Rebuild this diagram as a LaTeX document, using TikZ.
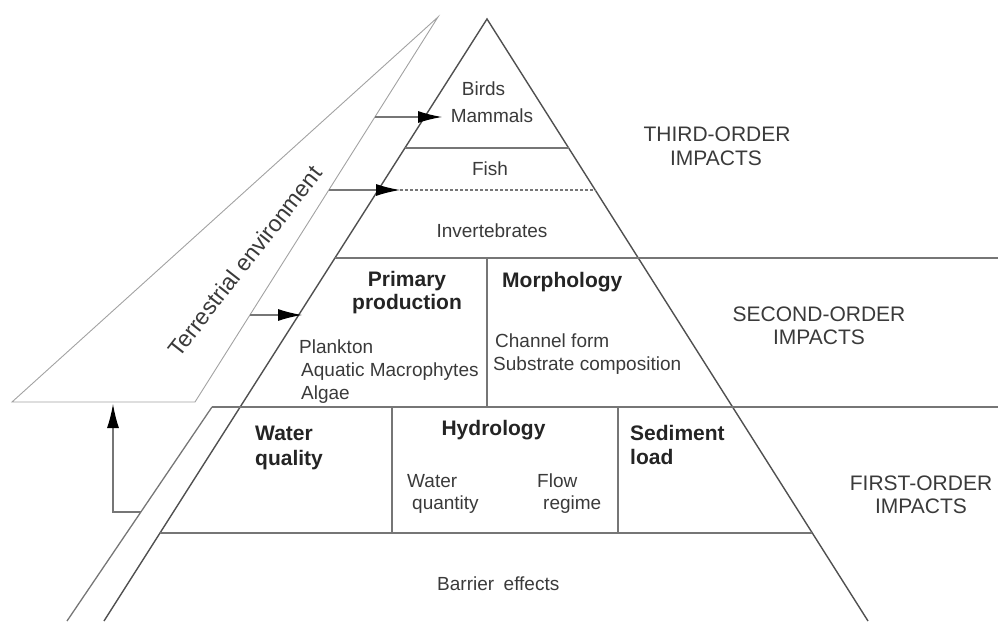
\documentclass[tikz,border=0pt]{standalone}
\usepackage{fontspec}
\setmainfont{Liberation Sans}
\usetikzlibrary{arrows.meta}

\definecolor{linegray}{HTML}{767676}
\definecolor{edgegray}{HTML}{505050}
\definecolor{terrgray}{HTML}{A2A2A2}
\definecolor{txt}{HTML}{3A3A3A}
\definecolor{txtbold}{HTML}{242424}

\tikzset{
  grid line/.style={draw=linegray, line width=1.3pt},
  edge line/.style={draw=edgegray, line width=1.4pt},
  terr line/.style={draw=terrgray, line width=0.9pt},
  dotted line/.style={draw=linegray, line width=1.2pt, dash pattern=on 3pt off 2pt},
  lbl/.style={inner sep=0pt, text=txt, font=\fontsize{19}{23}\selectfont},
  head/.style={inner sep=0pt, text=txtbold, font=\fontsize{21}{24}\selectfont\bfseries},
  order/.style={inner sep=0pt, text=txt, font=\fontsize{21}{24}\selectfont, align=center},
  terr text/.style={inner sep=0pt, text=txt, font=\fontsize{23}{27}\selectfont, rotate=52},
  flow/.style={draw=linegray, line width=1.2pt, -{Latex[length=24pt,width=12pt,color=black]}},
}

\begin{document}
\begin{tikzpicture}[x=1pt,y=-1pt]
\useasboundingbox (0,0) rectangle (998,621);

% ---- pyramid outline ----
\coordinate (apex)  at (487,19);
\coordinate (baseL) at (104,621);
\coordinate (baseR) at (868,621);
\draw[edge line] (baseL) -- (apex) -- (baseR);

% ---- terrestrial wedge and the strip below it ----
\coordinate (tTop)  at (438,17);
\coordinate (tOutB) at (12,402);
\coordinate (tInB)  at (195,402);
\draw[terr line] (tTop) -- (tOutB) -- (tInB) -- cycle;

\coordinate (stripTop) at (212,407);
\coordinate (stripBot) at (67,621);
\draw[grid line] (stripTop) -- (stripBot);

% ---- tier boundaries ----
\coordinate (birdsL) at (404.9,148);  \coordinate (birdsR) at (568.6,148);
\coordinate (fishR)  at (595.2,190);
\coordinate (invL)   at (334.9,258);  \coordinate (invR)   at (998,258);
\coordinate (secR)   at (998,407);
\coordinate (firL)   at (160,533);    \coordinate (firR)   at (812.3,533);

\draw[grid line] (birdsL) -- (birdsR);
\draw[grid line] (invL) -- (invR);
\draw[grid line] (stripTop) -- (secR);
\draw[grid line] (firL) -- (firR);

% ---- cell dividers ----
\coordinate (d1t) at (487,258); \coordinate (d1b) at (487,407);
\coordinate (d2t) at (392,407); \coordinate (d2b) at (392,533);
\coordinate (d3t) at (618,407); \coordinate (d3b) at (618,533);
\draw[grid line] (d1t) -- (d1b);
\draw[grid line] (d2t) -- (d2b);
\draw[grid line] (d3t) -- (d3b);

% ---- links from the terrestrial environment ----
\coordinate (aBirdsS) at (374.9,117);  \coordinate (aBirdsE) at (442,117);
\coordinate (aFishS)  at (328.8,190);  \coordinate (aFishE)  at (400,190);
\coordinate (aPrimS)  at (249.9,315);  \coordinate (aPrimE)  at (302,315);
\coordinate (aUpS)    at (140.9,512);  \coordinate (aUpK)    at (113,512);
\coordinate (aUpE)    at (113,404);

\draw[dotted line] (aFishE) -- (fishR);
\draw[flow] (aBirdsS) -- (aBirdsE);
\draw[flow] (aFishS) -- (aFishE);
\draw[flow] (aPrimS) -- (aPrimE);
\draw[flow] (aUpS) -- (aUpK) -- (aUpE);

% ---- third-order tiers ----
\node[lbl, anchor=base] (birds)   at (483.5,95)  {Birds};
\node[lbl, anchor=base] (mammals) at (492,122)   {Mammals};
\node[lbl, anchor=base] (fish)    at (490,175)   {Fish};
\node[lbl, anchor=base] (inv)     at (492,237)   {Invertebrates};

% ---- second-order cells ----
\node[head, anchor=base] (prim1) at (407,286) {Primary};
\node[head, anchor=base] (prim2) at (407,309) {production};
\node[lbl, anchor=base west] (plank) at (299,353) {Plankton};
\node[lbl, anchor=base west] (macro) at (301,376) {Aquatic Macrophytes};
\node[lbl, anchor=base west] (algae) at (301,399) {Algae};

\node[head, anchor=base west] (morph) at (502,287) {Morphology};
\node[lbl, anchor=base west] (chan) at (495,347) {Channel form};
\node[lbl, anchor=base west] (subs) at (493,370) {Substrate composition};

% ---- first-order cells ----
\node[head, anchor=base west] (wq1) at (255,440) {Water};
\node[head, anchor=base west] (wq2) at (255,465) {quality};
\node[head, anchor=base] (hydro) at (493.5,435) {Hydrology};
\node[lbl, anchor=base west] (wqn1) at (407,487) {Water};
\node[lbl, anchor=base west] (wqn2) at (412,509) {quantity};
\node[lbl, anchor=base west] (flow1) at (537,487) {Flow};
\node[lbl, anchor=base west] (flow2) at (543,509) {regime};
\node[head, anchor=base west] (sed1) at (630,440) {Sediment};
\node[head, anchor=base west] (sed2) at (630,464) {load};

% ---- base tier ----
\node[lbl, anchor=base west] (barrier) at (437,590) {Barrier\hspace{0.5em}effects};

% ---- order labels ----
\node[order, anchor=base] (third1) at (717,141) {THIRD-ORDER};
\node[order, anchor=base] (third2) at (716,165) {IMPACTS};
\node[order, anchor=base] (sec1)   at (819,321) {SECOND-ORDER};
\node[order, anchor=base] (sec2)   at (819,344) {IMPACTS};
\node[order, anchor=base] (first1) at (921,490) {FIRST-ORDER};
\node[order, anchor=base] (first2) at (921,513) {IMPACTS};

% ---- terrestrial label ----
\node[terr text] (terr) at (245,261) {Terrestrial environment};
\end{tikzpicture}
\end{document}
